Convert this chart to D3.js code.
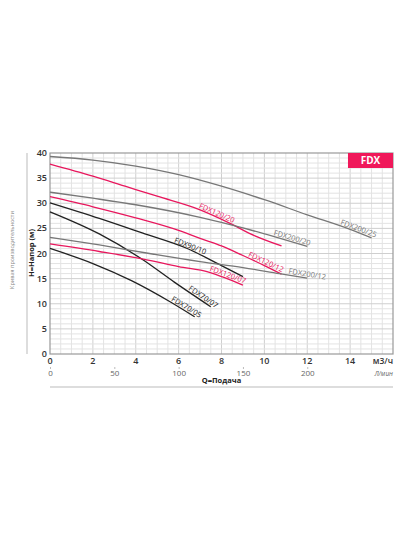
<!DOCTYPE html>
<html>
<head>
<meta charset="utf-8">
<script src="https://cdnjs.cloudflare.com/ajax/libs/d3/7.8.5/d3.min.js"></script>
<style>
    body { margin: 0; background: #fff; }
    text { font-family: "Open Sans", sans-serif; }
</style>
</head>
<body>
<div id="chart"></div>
<script>
(function () {
    // ticks
    var flowTicks = [0, 2, 4, 6, 8, 10, 12, 14];
    var headTicks = [0, 5, 10, 15, 20, 25, 30, 35, 40];
    var litreTicks = [0, 50, 100, 150, 200];

    // curves, [Q m3/h, H m]
    var fdx200_25 = [[0, 39.3], [2, 38.6], [4, 37.4], [6, 35.7], [8, 33.4], [10, 30.7], [12, 27.7], [14, 24.8], [15, 23.1]];
    var fdx120_20 = [[0, 37.8], [2, 35.4], [3.5, 33.4], [5, 31.4], [7, 28.7], [8.4, 26.0], [9.3, 24.0], [10.8, 21.5]];
    var fdx200_20 = [[0, 32.2], [2, 31.0], [4, 29.7], [7, 27.2], [9, 25.1], [10.5, 23.3], [12, 21.4]];
    var fdx120_12 = [[0, 31.3], [2, 29.3], [4, 27.1], [6, 24.6], [7, 23.0], [8, 21.5], [9, 19.6], [10, 17.6], [10.8, 15.9]];
    var fdx90_10 = [[0, 30.1], [2.3, 27.0], [4.3, 24.1], [6.4, 21.0], [8, 17.6], [9, 15.4]];
    var fdx70_07 = [[0, 28.3], [2.3, 23.9], [4.35, 18.7], [5.8, 14.3], [7.5, 9.4]];
    var fdx200_12 = [[0, 23.2], [2.3, 21.7], [4.5, 20.1], [7, 18.4], [9, 17.2], [10.7, 16.0], [12, 15.1]];
    var fdx120_07 = [[0, 21.9], [2.3, 20.4], [4.35, 18.9], [6, 17.4], [7.4, 16.3], [8.2, 15.1], [9, 13.7]];
    var fdx70_05 = [[0, 21.0], [2, 18.0], [3.8, 14.6], [5.6, 10.4], [6.75, 7.4]];

    var curves = [
        {name: "FDX200/25", color: "#777", pts: fdx200_25, at: 13.5},
        {name: "FDX120/20", color: "#e8175d", pts: fdx120_20, at: 6.9},
        {name: "FDX200/20", color: "#777", pts: fdx200_20, at: 10.4},
        {name: "FDX120/12", color: "#e8175d", pts: fdx120_12, at: 9.2},
        {name: "FDX90/10", color: "#222", pts: fdx90_10, at: 5.75},
        {name: "FDX70/07", color: "#222", pts: fdx70_07, at: 6.4},
        {name: "FDX200/12", color: "#777", pts: fdx200_12, at: 11.1},
        {name: "FDX120/07", color: "#e8175d", pts: fdx120_07, at: 7.4},
        {name: "FDX70/05", color: "#222", pts: fdx70_05, at: 5.6}
    ];

    var width = 400,
        height = 534;

    var svg = d3.select("#chart")
        .append("svg")
        .attr("width", width)
        .attr("height", height);

    var x = d3.scaleLinear().domain([0, 16]).range([50, 393]);
    var y = d3.scaleLinear().domain([0, 40]).range([354, 153]);
    // l/s scale lines up with m3/h (200 <-> 12)
    var xl = d3.scaleLinear().domain([0, 16 * 200 / 12]).range([50, 393]);

    // grid
    var grid = svg.append("g");
    grid.selectAll(".vg")
        .data(d3.range(0.5, 16, 0.5))
        .enter().append("line")
        .attr("x1", function (d) { return x(d); })
        .attr("x2", function (d) { return x(d); })
        .attr("y1", y(0))
        .attr("y2", y(40))
        .style("stroke", function (d) { return d % 2 === 0 ? "#cfcfcf" : "#e3e3e3"; })
        .style("stroke-width", 1);
    grid.selectAll(".hg")
        .data(d3.range(1, 40, 1))
        .enter().append("line")
        .attr("x1", x(0))
        .attr("x2", x(16))
        .attr("y1", function (d) { return y(d); })
        .attr("y2", function (d) { return y(d); })
        .style("stroke", function (d) { return d % 5 === 0 ? "#cfcfcf" : "#e3e3e3"; })
        .style("stroke-width", 1);

    // frame
    svg.append("rect")
        .attr("x", x(0))
        .attr("y", y(40))
        .attr("width", x(16) - x(0))
        .attr("height", y(0) - y(40))
        .style("fill", "none")
        .style("stroke", "#999")
        .style("stroke-width", 1.2);

    // FDX tag
    svg.append("rect")
        .attr("x", x(13.9))
        .attr("y", y(40))
        .attr("width", x(16) - x(13.9))
        .attr("height", 15)
        .style("fill", "#f0185a");
    svg.append("text")
        .attr("x", (x(13.9) + x(16)) / 2)
        .attr("y", y(40) + 11)
        .attr("text-anchor", "middle")
        .style("font-size", "10px")
        .style("font-weight", "bold")
        .style("fill", "#fff")
        .text("FDX");

    // curves
    var line = d3.line()
        .x(function (d) { return x(d[0]); })
        .y(function (d) { return y(d[1]); })
        .curve(d3.curveMonotoneX);

    svg.selectAll(".pump")
        .data(curves)
        .enter().append("path")
        .attr("class", "pump")
        .attr("d", function (d) { return line(d.pts); })
        .style("fill", "none")
        .style("stroke", function (d) { return d.color; })
        .style("stroke-width", 1.3);

    // labels sitting on the curve
    function headAt(pts, q) {
        for (var i = 1; i < pts.length; i++) {
            if (q <= pts[i][0]) {
                var t = (q - pts[i - 1][0]) / (pts[i][0] - pts[i - 1][0]);
                return pts[i - 1][1] + t * (pts[i][1] - pts[i - 1][1]);
            }
        }
        var n = pts.length;
        var s = (pts[n - 1][1] - pts[n - 2][1]) / (pts[n - 1][0] - pts[n - 2][0]);
        return pts[n - 1][1] + s * (q - pts[n - 1][0]);
    }

    svg.selectAll(".lbl")
        .data(curves)
        .enter().append("text")
        .attr("class", "lbl")
        .attr("transform", function (d) {
            var q1 = d.at, q2 = d.at + 1;
            var x1 = x(q1), y1 = y(headAt(d.pts, q1));
            var x2 = x(q2), y2 = y(headAt(d.pts, q2));
            var a = Math.atan2(y2 - y1, x2 - x1) * 180 / Math.PI;
            return "translate(" + x1 + "," + y1 + ") rotate(" + a + ")";
        })
        .attr("dy", -1.5)
        .style("font-size", "7.5px")
        .style("fill", function (d) { return d.color; })
        .text(function (d) { return d.name; });

    // y ticks
    svg.selectAll(".ytick")
        .data(headTicks)
        .enter().append("text")
        .attr("x", 47)
        .attr("y", function (d) { return y(d) + 3; })
        .attr("text-anchor", "end")
        .style("font-size", "9px")
        .style("font-weight", 600)
        .style("fill", "#333")
        .text(function (d) { return d; });

    // m3/h ticks
    svg.selectAll(".xtick")
        .data(flowTicks)
        .enter().append("text")
        .attr("x", function (d) { return x(d); })
        .attr("y", 364)
        .attr("text-anchor", "middle")
        .style("font-size", "9px")
        .style("font-weight", 600)
        .style("fill", "#333")
        .text(function (d) { return d; });
    svg.append("text")
        .attr("x", x(16))
        .attr("y", 364)
        .attr("text-anchor", "end")
        .style("font-size", "8.5px")
        .style("font-weight", 600)
        .style("fill", "#333")
        .text("м3/ч");

    // l/s axis
    var lAxis = svg.append("g")
        .attr("transform", "translate(0,367)")
        .call(d3.axisBottom(xl).tickValues(litreTicks).tickSize(2).tickPadding(1));
    lAxis.select(".domain").remove();
    lAxis.selectAll("line").style("stroke", "#bbb");
    lAxis.selectAll("text")
        .style("font-family", "Open Sans, sans-serif")
        .style("font-size", "8px")
        .style("fill", "#666");
    svg.append("text")
        .attr("x", x(16))
        .attr("y", 376)
        .attr("text-anchor", "end")
        .style("font-size", "6.5px")
        .style("font-style", "italic")
        .style("fill", "#666")
        .text("Л/мин");

    svg.append("text")
        .attr("x", (x(0) + x(16)) / 2)
        .attr("y", 383)
        .attr("text-anchor", "middle")
        .style("font-size", "7.5px")
        .style("font-weight", "bold")
        .style("fill", "#222")
        .text("Q=Подача");

    svg.append("line")
        .attr("x1", x(0)).attr("x2", x(16))
        .attr("y1", 387).attr("y2", 387)
        .style("stroke", "#bbb");

    // left side
    svg.append("line")
        .attr("x1", 27).attr("x2", 27)
        .attr("y1", y(40)).attr("y2", y(0))
        .style("stroke", "#bbb");
    svg.append("text")
        .attr("transform", "translate(34,253) rotate(-90)")
        .attr("text-anchor", "middle")
        .style("font-size", "7.5px")
        .style("font-weight", "bold")
        .style("fill", "#222")
        .text("H=Напор (м)");
    svg.append("text")
        .attr("transform", "translate(14,250) rotate(-90)")
        .attr("text-anchor", "middle")
        .style("font-size", "5.5px")
        .style("fill", "#888")
        .text("Кривая производительности");

})();
</script>
</body>
</html>
